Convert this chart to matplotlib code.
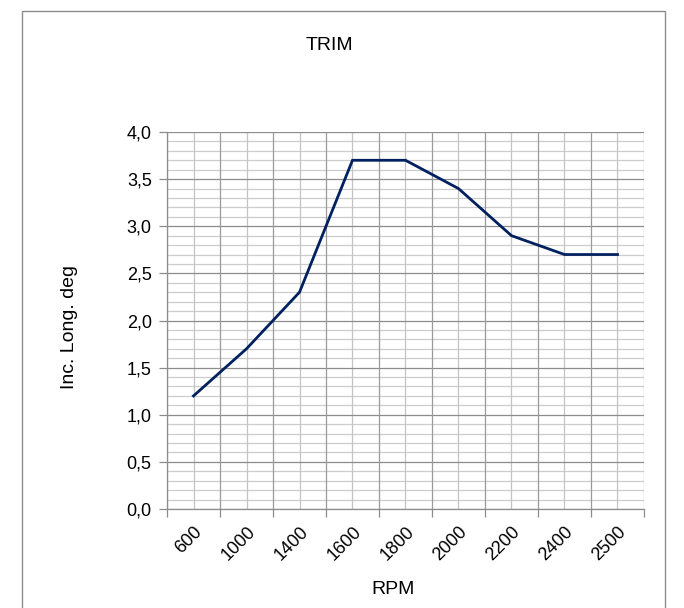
import matplotlib
matplotlib.use("Agg")
import matplotlib.pyplot as plt
from matplotlib.patches import Rectangle
from matplotlib.ticker import FuncFormatter, MultipleLocator, FixedLocator
import numpy as np

plt.rcParams['font.family'] = ['Liberation Sans', 'DejaVu Sans']

categories = ["600", "1000", "1400", "1600", "1800", "2000", "2200", "2400", "2500"]
values = [1.2, 1.7, 2.3, 3.7, 3.7, 3.4, 2.9, 2.7, 2.7]
title = "TRIM"
xlabel = "RPM"
ylabel = "Inc. Long. deg"

W, H = 684, 608
fig = plt.figure(figsize=(W / 100, H / 100), dpi=100)
ax = fig.add_axes([167 / W, 1 - 509 / H, (644 - 167) / W, (509 - 132) / H])

n = len(categories)
x = np.arange(n)
ax.set_xlim(-0.5, n - 0.5)
ax.set_ylim(0, 4.0)

# grid
for yv in np.arange(0, 4.0001, 0.1):
    major = abs(yv / 0.5 - round(yv / 0.5)) < 1e-6
    ax.axhline(yv, color='#8c8c8c' if major else '#cccccc', lw=0.9,
               zorder=1 if major else 0.5)
for xv in np.arange(-0.5, n, 1.0):
    ax.axvline(xv, color='#9a9a9a', lw=0.9, zorder=1)
for xv in x:
    ax.axvline(xv, color='#c4c4c4', lw=0.9, zorder=0.5)

ax.plot(x, values, color='#002060', lw=2.0, zorder=3, solid_joinstyle='miter')

# ticks
ax.xaxis.set_major_locator(FixedLocator(np.arange(-0.5, n, 1.0)))
ax.xaxis.set_major_formatter(FuncFormatter(lambda v, p: ""))
ax.set_xticks(x, categories, minor=True)
ax.tick_params(axis='x', which='major', direction='out', length=6, color='#8c8c8c', width=0.9)
ax.tick_params(axis='x', which='minor', length=0, pad=10, labelsize=13)
for lab in ax.get_xticklabels(minor=True):
    lab.set_rotation(45)
    lab.set_ha('right')
    lab.set_va('top')
    lab.set_rotation_mode('anchor')

ax.yaxis.set_major_locator(MultipleLocator(0.5))
ax.yaxis.set_major_formatter(FuncFormatter(lambda v, p: f"{v:.1f}".replace('.', ',')))
ax.tick_params(axis='y', which='major', direction='out', length=6, color='#8c8c8c', width=0.9,
               labelsize=13, pad=5)

for s in ax.spines.values():
    s.set_color('#8c8c8c')
    s.set_linewidth(0.9)
ax.spines['top'].set_visible(False)
ax.spines['right'].set_visible(False)

fig.text(329 / W, 1 - 46 / H, title, ha='center', va='center', fontsize=14)
fig.text(393 / W, 1 - 590 / H, xlabel, ha='center', va='center', fontsize=14)
fig.text(70 / W, 1 - 327 / H, ylabel, ha='center', va='center', rotation=90, fontsize=14)

fig.patches.append(Rectangle((22 / W, -0.05), (665 - 22) / W, 1 - 11 / H + 0.05,
                             transform=fig.transFigure, fill=False, edgecolor='#8c8c8c',
                             lw=1.0, figure=fig))

fig.savefig("out.png", dpi=100)
